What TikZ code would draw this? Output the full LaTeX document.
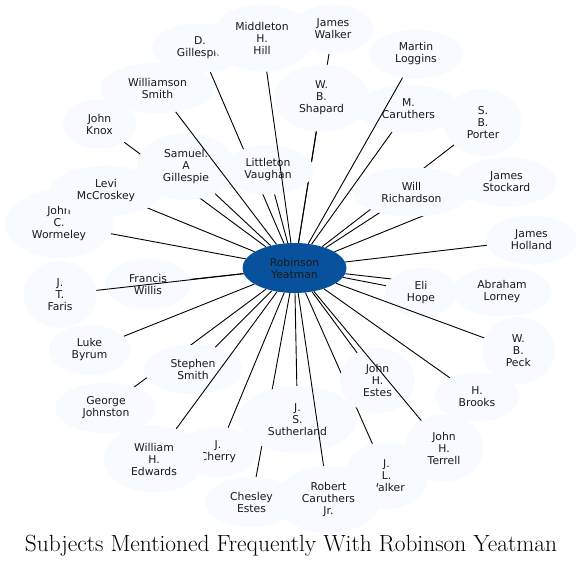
\documentclass[tikz,border=0pt]{standalone}
\usepackage{fontspec}
\newfontfamily\nodefont{DejaVu Sans}
\usetikzlibrary{shapes.geometric,backgrounds}
\definecolor{nodefill}{HTML}{F7FBFF}
\definecolor{hubfill}{HTML}{08519C}
\tikzset{
  pnode/.style={ellipse, fill=nodefill, inner sep=0pt, align=center,
    font=\nodefont\fontsize{10.8}{12}\selectfont, text=black!90},
  hubnode/.style={ellipse, fill=hubfill, inner sep=0pt, align=center,
    font=\nodefont\fontsize{10.8}{12}\selectfont, text=black!90},
  link/.style={line width=0.9pt, black},
  titletext/.style={font=\fontsize{23.4}{28}\selectfont, anchor=base}
}
\begin{document}
\begin{tikzpicture}[x=1pt,y=-1pt]
\useasboundingbox (0,0) rectangle (582,569);
\begin{pgfonlayer}{background}
\fill[white] (0,0) rectangle (582,569);
\end{pgfonlayer}
% nodes
\node[pnode, minimum width=96pt, minimum height=49pt] (dg) at (200,48) {D.\\Gillespie};
\node[pnode, minimum width=102pt, minimum height=67pt] (mhh) at (262,38) {Middleton\\H.\\Hill};
\node[pnode, minimum width=80pt, minimum height=49pt] (jw) at (333,29) {James\\Walker};
\node[pnode, minimum width=94pt, minimum height=49pt] (ml) at (416,54) {Martin\\Loggins};
\node[pnode, minimum width=115pt, minimum height=50pt] (ws) at (157.5,88) {Williamson\\Smith};
\node[pnode, minimum width=94pt, minimum height=67pt] (wbs) at (321.5,98) {W.\\B.\\Shapard};
\node[pnode, minimum width=103pt, minimum height=48pt] (mc) at (408.5,109) {M.\\Caruthers};
\node[pnode, minimum width=77pt, minimum height=67pt] (sbp) at (483,122.5) {S.\\B.\\Porter};
\node[pnode, minimum width=73pt, minimum height=49pt] (jk) at (99.5,124) {John\\Knox};
\node[pnode, minimum width=98pt, minimum height=67pt] (sag) at (186,166.5) {Samuel.\\A\\Gillespie};
\node[pnode, minimum width=92pt, minimum height=49pt] (lv) at (268,170) {Littleton\\Vaughan};
\node[pnode, minimum width=108pt, minimum height=68pt] (jcw) at (59,224) {John\\C.\\Wormeley};
\node[pnode, minimum width=112pt, minimum height=50pt] (lm) at (106,191) {Levi\\McCroskey};
\node[pnode, minimum width=117pt, minimum height=49pt] (wr) at (411.5,192) {Will\\Richardson};
\node[pnode, minimum width=100pt, minimum height=49pt] (js) at (506.5,182) {James\\Stockard};
\node[pnode, minimum width=91pt, minimum height=49pt] (jh) at (531.5,240) {James\\Holland};
\node[pnode, minimum width=86pt, minimum height=50pt] (fw) at (148,284) {Francis\\Willis};
\node[pnode, minimum width=73pt, minimum height=67pt] (jtf) at (60,294.5) {J.\\T.\\Faris};
\node[pnode, minimum width=72pt, minimum height=49pt] (eh) at (421,292.5) {Eli\\Hope};
\node[pnode, minimum width=99pt, minimum height=50pt] (al) at (502,291.5) {Abraham\\Lorney};
\node[pnode, minimum width=73pt, minimum height=67pt] (wbp) at (518.3,350.5) {W.\\B.\\Peck};
\node[pnode, minimum width=81pt, minimum height=50pt] (lb) at (89.5,350) {Luke\\Byrum};
\node[pnode, minimum width=98pt, minimum height=49pt] (ss) at (193,369.5) {Stephen\\Smith};
\node[pnode, minimum width=75pt, minimum height=65pt] (jhe) at (377.5,380.5) {John\\H.\\Estes};
\node[pnode, minimum width=84pt, minimum height=49pt] (hb) at (477,397) {H.\\Brooks};
\node[pnode, minimum width=101pt, minimum height=50pt] (gj) at (106,408) {George\\Johnston};
\node[pnode, minimum width=118pt, minimum height=67pt] (jss) at (297.5,419.5) {J.\\S.\\Sutherland};
\node[pnode, minimum width=78pt, minimum height=67pt] (jht) at (444,448) {John\\H.\\Terrell};
\node[pnode, minimum width=78pt, minimum height=50pt] (jc) at (218,452) {J.\\Cherry};
\node[pnode, minimum width=100pt, minimum height=67pt] (whe) at (154,459) {William\\H.\\Edwards};
\node[pnode, minimum width=93pt, minimum height=50pt] (ce) at (251.5,502) {Chesley\\Estes};
\node[pnode, minimum width=83pt, minimum height=67pt] (jlw) at (386.5,475.5) {J.\\L.\\Walker};
\node[pnode, minimum width=104pt, minimum height=67pt] (rcj) at (328.5,499.5) {Robert\\Caruthers\\Jr.};
\node[hubnode, minimum width=104pt, minimum height=50pt] (hub) at (294.5,268) {Robinson\\Yeatman};
% edges hidden beneath other nodes
\begin{pgfonlayer}{background}
\foreach \n in {dg,jw,wbs,mc,sbp,jk,sag,lv,jcw,lm,wr,js,jh,fw,eh,al,lb,ss,jhe,hb,gj,jss,jc,ce,jlw}
  \draw[link] (hub) -- (\n);
\end{pgfonlayer}
% edges drawn over other nodes
\foreach \n in {ws,mhh,ml,jtf,whe,rcj,jht,wbp}
  \draw[link] (hub) -- (\n);
% title
\node[titletext] (title) at (291,552) {Subjects Mentioned Frequently With Robinson Yeatman};
\end{tikzpicture}
\end{document}
